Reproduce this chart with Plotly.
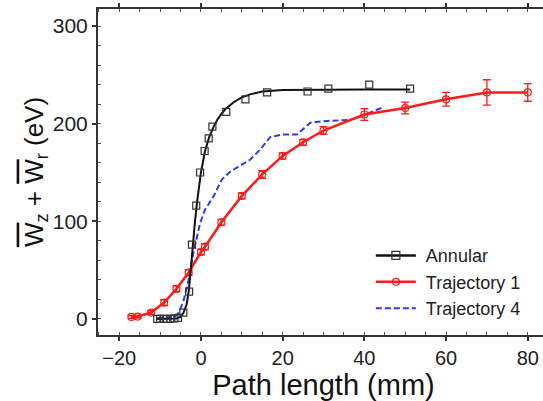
import plotly.graph_objects as go

# Annular: measured points and fitted curve
ann_x = [-10.7, -10.0, -9.2, -8.5, -7.5, -6.5, -5.6, -4.3, -2.9, -2.2, -1.15, -0.2, 0.9, 1.9, 2.8, 6.2, 10.9, 16.2, 26.1, 31.2, 41.2, 51.2]
ann_y = [0, 0, 0, 0, 0, 0.5, 1, 6.5, 28, 76, 116, 150, 172, 185, 197, 212, 225, 232, 233, 236, 240, 236]
fit_x = [-10.7, -6, -5, -4.3, -3.5, -3, -2.5, -2, -1.5, -1, -0.5, 0, 1, 2, 3, 4, 5, 6, 8, 10, 12, 15, 20, 30, 40, 51.2]
fit_y = [0, 0.5, 2, 6, 15, 28, 50, 76, 98, 118, 134, 150, 172, 186, 196, 204, 210, 215, 222, 227, 230, 233, 234.5, 235, 235, 235]

# Trajectory 1 with error bars
t1_x = [-17, -15.5, -12.2, -9, -6, -3, 0, 1, 5, 10, 15, 20, 25, 30, 40, 50, 60, 70, 80]
t1_y = [2, 2.4, 6.5, 16.7, 30.8, 47.5, 68.5, 74, 99, 126, 148, 167, 181, 193, 209.4, 216, 225, 232, 232]
t1_err = [1.5, 1.5, 2, 3, 3, 3, 3, 3, 3, 3, 4, 3, 3, 4, 6, 6, 7, 13, 9]

# Trajectory 4
t4_x = [-10.8, -6.3, -5.5, -4.3, -3, -1.8, -0.2, 1, 3.1, 5.1, 7.2, 9.5, 12, 14.5, 17, 20.2, 23.5, 26.8, 30, 36.5, 38.2, 44.7]
t4_y = [0.7, 2.4, 6, 17.8, 40, 69, 98, 112, 125.6, 142.7, 151, 157, 163, 173.5, 186.5, 189, 189, 201, 202.6, 204, 206, 217]

x_ticks = [-20, 0, 20, 40, 60, 80]
x_labels = ["\u221220", "0", "20", "40", "60", "80"]
y_ticks = [0, 100, 200, 300]

BLACK = "#111111"
RED = "#ff1a1a"
BLUE = "#2a3bf0"
AXC = "#333333"
NB = "\u00a0"

XR = [-25.2, 85.2]
YR = [-16.5, 317.5]

fig = go.Figure()
fig.add_trace(go.Scatter(x=t4_x, y=t4_y, mode="lines", name=NB + "Trajectory 4",
                         line=dict(color=BLUE, width=2, dash="6px,3px"), legendrank=3))
fig.add_trace(go.Scatter(x=t1_x, y=t1_y, mode="lines+markers", name=NB + "Trajectory 1",
                         line=dict(color=RED, width=2.5),
                         marker=dict(symbol="circle-open", size=7, color=RED, line=dict(width=1.2)),
                         error_y=dict(type="data", array=t1_err, color=RED, thickness=1.3, width=4),
                         legendrank=2))
fig.add_trace(go.Scatter(x=fit_x, y=fit_y, mode="lines", showlegend=False,
                         line=dict(color=BLACK, width=2)))
fig.add_trace(go.Scatter(x=ann_x, y=ann_y, mode="markers", showlegend=False,
                         marker=dict(symbol="square-open", size=7, color="#333333", line=dict(width=1.2))))
fig.add_trace(go.Scatter(x=[None], y=[None], mode="lines+markers", name=NB + "Annular",
                         line=dict(color=BLACK, width=2.5),
                         marker=dict(symbol="square-open", size=8, color="#333333", line=dict(width=1.2)),
                         legendrank=1))

FONT = "Liberation Sans, Arial, sans-serif"
axis_common = dict(showline=True, linecolor=AXC, linewidth=2, showgrid=False, zeroline=False,
                   ticks="outside", ticklen=4, tickwidth=2, tickcolor=AXC, automargin=False)

fig.update_layout(
    width=549, height=401,
    margin=dict(l=98, r=0, t=9, b=66),
    paper_bgcolor="white", plot_bgcolor="white",
    font=dict(family=FONT, color="#222222"),
    showlegend=True,
    legend=dict(x=0.605, y=0.3, xanchor="left", yanchor="top", bgcolor="rgba(0,0,0,0)",
                font=dict(family=FONT, size=18, color="#222222"), tracegroupgap=0, itemwidth=40),
    xaxis=dict(range=XR, tickvals=x_ticks, ticktext=x_labels, mirror="ticks",
               tickfont=dict(family=FONT, size=20, color="#222222"),
               title=dict(text="Path length (mm)", font=dict(family=FONT, size=29, color="#111111"), standoff=0),
               minor=dict(dtick=5, tick0=0, ticks="inside", ticklen=3, tickcolor="#555555", tickwidth=1),
               **axis_common),
    yaxis=dict(range=YR, tickvals=y_ticks,
               tickfont=dict(family=FONT, size=21, color="#222222"),
               title=dict(text='<span style="text-decoration:overline">W</span><sub>z</sub> + '
                               '<span style="text-decoration:overline">W</span><sub>r</sub> (eV)',
                          font=dict(family=FONT, size=26, color="#111111"), standoff=2),
               minor=dict(dtick=20, tick0=0, ticks="inside", ticklen=3, tickcolor="#555555", tickwidth=1),
               **axis_common),
    xaxis2=dict(overlaying="x", matches="x", range=XR, tickvals=x_ticks, showticklabels=False,
                ticks="inside", ticklen=4, tickwidth=2, tickcolor=AXC, showline=False, showgrid=False,
                zeroline=False, mirror="ticks", anchor="y", side="bottom"),
    yaxis2=dict(overlaying="y", matches="y", range=YR, tickvals=y_ticks, showticklabels=False,
                ticks="inside", ticklen=4, tickwidth=2, tickcolor=AXC, showline=False, showgrid=False,
                zeroline=False, anchor="x", side="left"),
)

fig.write_html("out.html", config={"displayModeBar": False},
               post_script="document.body.style.margin='0';document.body.style.overflow='hidden';"
                           "document.documentElement.style.overflow='hidden';")
